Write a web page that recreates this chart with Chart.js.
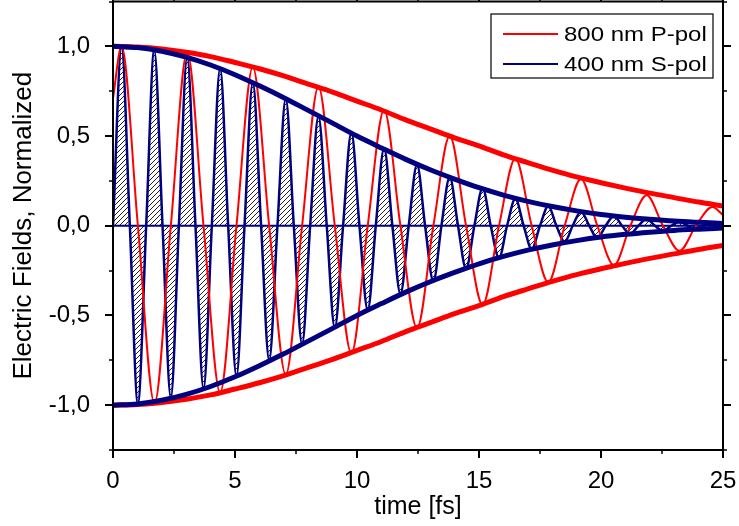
<!DOCTYPE html>
<html>
<head>
<meta charset="utf-8">
<script src="https://cdn.jsdelivr.net/npm/chart.js@4.4.1/dist/chart.umd.min.js"></script>
<style>
  html, body { margin: 0; padding: 0; background: #fff; }
  #wrap { width: 739px; height: 526px; position: relative; }
</style>
</head>
<body>
<div id="wrap"><canvas id="c"></canvas></div>
<script>
/* 800 nm P-pol: times of extrema / zero crossings and field values */
var RED_T = [0, 0.35, 1.02, 1.70, 2.37, 3.04, 3.71, 4.39, 5.06, 5.73, 6.40, 7.08, 7.75, 8.42, 9.09,
  9.77, 10.44, 11.11, 11.78, 12.46, 13.13, 13.80, 14.47, 15.15, 15.82, 16.49, 17.16, 17.84, 18.51,
  19.18, 19.85, 20.53, 21.20, 21.87, 22.54, 23.22, 23.89, 24.56, 25];
var RED_E = [0.71, 1.00, 0, -0.99, 0, 0.97, 0, -0.93, 0, 0.885, 0, -0.83, 0, 0.775, 0,
  -0.71, 0, 0.645, 0, -0.57, 0, 0.50, 0, -0.44, 0, 0.375, 0, -0.315, 0,
  0.26, 0, -0.22, 0, 0.17, 0, -0.14, 0, 0.105, 0.06];

/* 400 nm S-pol */
var BLUE_T = [0, 0.35, 0.69, 1.02, 1.36, 1.69, 2.03, 2.37, 2.70, 3.04, 3.38, 3.71, 4.05, 4.39, 4.72,
  5.06, 5.39, 5.73, 6.07, 6.40, 6.74, 7.08, 7.41, 7.75, 8.08, 8.42, 8.76, 9.09, 9.43, 9.77, 10.10,
  10.44, 10.77, 11.11, 11.45, 11.78, 12.12, 12.46, 12.79, 13.13, 13.46, 13.80, 14.14, 14.47, 14.81,
  15.15, 15.48, 15.82, 16.15, 16.49, 16.83, 17.16, 17.50, 17.84, 18.17, 18.51, 18.84, 19.18, 19.52,
  19.85, 20.19, 20.53, 20.86, 21.20, 21.53, 21.87, 22.21, 22.54, 22.88, 23.22, 23.55, 23.89, 24.22,
  24.56, 24.90, 25];
var BLUE_E = [0, 1.00, 0, -0.99, 0, 0.98, 0, -0.96, 0, 0.94, 0, -0.91, 0, 0.88, 0,
  -0.84, 0, 0.80, 0, -0.75, 0, 0.71, 0, -0.66, 0, 0.61, 0, -0.57, 0, 0.52, 0,
  -0.47, 0, 0.43, 0, -0.38, 0, 0.34, 0, -0.31, 0, 0.27, 0, -0.24, 0,
  0.21, 0, -0.18, 0, 0.15, 0, -0.13, 0, 0.11, 0, -0.09, 0, 0.08, 0,
  -0.07, 0, 0.055, 0, -0.045, 0, 0.037, 0, -0.03, 0, 0.024, 0, -0.02, 0,
  0.016, 0, -0.006];

/* envelopes */
var ENV_T = [0, 1, 2, 3, 4, 5, 6, 7, 8, 9, 10, 11, 12, 13, 14, 15, 16, 17, 18, 19, 20, 21, 22, 23, 24, 25];
var RED_ENV = [1.0, 0.996, 0.985, 0.967, 0.943, 0.91, 0.875, 0.835, 0.79, 0.745, 0.695, 0.645, 0.59,
  0.54, 0.49, 0.445, 0.395, 0.352, 0.31, 0.272, 0.24, 0.21, 0.182, 0.157, 0.132, 0.11];
var BLUE_ENV = [1.0, 0.993, 0.973, 0.94, 0.896, 0.842, 0.78, 0.714, 0.643, 0.572, 0.5, 0.434, 0.37,
  0.312, 0.26, 0.212, 0.171, 0.136, 0.107, 0.083, 0.063, 0.048, 0.036, 0.026, 0.019, 0.013];

var X_TICKS = [0, 5, 10, 15, 20, 25];
var X_MINOR = [2.5, 7.5, 12.5, 17.5, 22.5];
var Y_TICKS = [-1.0, -0.5, 0, 0.5, 1.0];
var Y_MINOR = [-1.25, -0.75, -0.25, 0.25, 0.75, 1.25];

var LEGEND = [
  { label: "800 nm P-pol", color: "#ff0000" },
  { label: "400 nm S-pol", color: "#000080" },
];

var RED = "#ff0000";
var NAVY = "#000080";
var FONT = "'Liberation Sans', Arial, sans-serif";

function pts(xs, ys, sign) {
  return xs.map(function (x, i) { return { x: x, y: (sign || 1) * ys[i] }; });
}

function hatchPattern(ctx) {
  var p = document.createElement("canvas");
  p.width = 5; p.height = 5;
  var g = p.getContext("2d");
  g.strokeStyle = "#222";
  g.lineWidth = 1;
  g.beginPath();
  g.moveTo(-1, 6); g.lineTo(6, -1);
  g.moveTo(-1, 1); g.lineTo(1, -1);
  g.moveTo(4, 6); g.lineTo(6, 4);
  g.stroke();
  return ctx.createPattern(p, "repeat");
}

function noPad(s) {
  s.paddingTop = 0; s.paddingBottom = 0; s.paddingLeft = 0; s.paddingRight = 0;
}

/* box, mirrored ticks (major + minor) and the legend inside the plot */
var framePlugin = {
  id: "frame",
  afterDraw: function (chart) {
    var ctx = chart.ctx, a = chart.chartArea;
    var xs = chart.scales.x, ys = chart.scales.y;
    ctx.save();
    ctx.strokeStyle = "#000";
    ctx.lineWidth = 2;
    ctx.strokeRect(a.left, a.top, a.right - a.left, a.bottom - a.top);

    function xt(v, len) {
      var px = Math.round(xs.getPixelForValue(v));
      ctx.beginPath();
      ctx.moveTo(px, a.bottom); ctx.lineTo(px, a.bottom + len);
      ctx.moveTo(px, a.top); ctx.lineTo(px, a.top - len);
      ctx.stroke();
    }
    function yt(v, len) {
      var py = Math.round(ys.getPixelForValue(v));
      ctx.beginPath();
      ctx.moveTo(a.left, py); ctx.lineTo(a.left - len, py);
      ctx.moveTo(a.right, py); ctx.lineTo(a.right + len, py);
      ctx.stroke();
    }
    X_TICKS.forEach(function (v) { xt(v, 8); });
    Y_TICKS.forEach(function (v) { yt(v, 8); });
    ctx.lineWidth = 1.5;
    X_MINOR.forEach(function (v) { xt(v, 4); });
    Y_MINOR.forEach(function (v) { yt(v, 4); });

    // legend
    var bx = 491, by = 14, bw = 222, bh = 64;
    ctx.fillStyle = "#fff";
    ctx.fillRect(bx, by, bw, bh);
    ctx.lineWidth = 1.2;
    ctx.strokeStyle = "#000";
    ctx.strokeRect(bx, by, bw, bh);
    ctx.font = "20px " + FONT;
    ctx.textBaseline = "middle";
    LEGEND.forEach(function (it, i) {
      var y = 34 + i * 30;
      ctx.strokeStyle = it.color;
      ctx.lineWidth = 2;
      ctx.beginPath();
      ctx.moveTo(503, y); ctx.lineTo(558, y);
      ctx.stroke();
      ctx.fillStyle = "#000";
      ctx.save();
      ctx.translate(564, y + 1);
      ctx.scale(1.2, 1);
      ctx.fillText(it.label, 0, 0);
      ctx.restore();
    });
    ctx.restore();
  },
};

var canvas = document.getElementById("c");
var ctx = canvas.getContext("2d");

new Chart(canvas, {
  type: "line",
  data: {
    datasets: [
      { data: pts(ENV_T, BLUE_ENV), borderColor: NAVY, borderWidth: 5 },
      { data: pts(ENV_T, BLUE_ENV, -1), borderColor: NAVY, borderWidth: 5 },
      { data: pts(RED_T, RED_E), borderColor: RED, borderWidth: 2 },
      { data: pts(ENV_T, RED_ENV), borderColor: RED, borderWidth: 5 },
      { data: pts(ENV_T, RED_ENV, -1), borderColor: RED, borderWidth: 5 },
      {
        data: pts(BLUE_T, BLUE_E),
        borderColor: NAVY,
        borderWidth: 2.5,
        fill: "origin",
        backgroundColor: hatchPattern(ctx),
      },
      { data: [{ x: 0, y: 0 }, { x: 25, y: 0 }], borderColor: NAVY, borderWidth: 2 },
    ],
  },
  options: {
    responsive: true,
    maintainAspectRatio: false,
    animation: false,
    devicePixelRatio: 1,
    layout: { padding: { top: 1.5, right: 16, left: 0, bottom: 0 } },
    elements: {
      point: { radius: 0, hoverRadius: 0 },
      line: { cubicInterpolationMode: "monotone", fill: false, borderCapStyle: "butt" },
    },
    plugins: {
      legend: { display: false },
      tooltip: { enabled: false },
      filler: { drawTime: "beforeDatasetsDraw" },
    },
    scales: {
      x: {
        type: "linear",
        min: 0,
        max: 25,
        afterBuildTicks: function (s) { s.ticks = X_TICKS.map(function (v) { return { value: v }; }); },
        afterFit: function (s) { s.height = 76; noPad(s); },
        grid: { display: false },
        border: { display: false },
        ticks: {
          color: "#000",
          padding: 9,
          maxRotation: 0,
          font: { family: FONT, size: 24 },
          callback: function (v) { return String(v); },
        },
        title: {
          display: true,
          text: "time [fs]",
          color: "#000",
          font: { family: FONT, size: 25 },
          padding: { top: 0, bottom: 4 },
        },
      },
      y: {
        min: -1.25,
        max: 1.25,
        afterBuildTicks: function (s) { s.ticks = Y_TICKS.map(function (v) { return { value: v }; }); },
        afterFit: function (s) { s.width = 113; noPad(s); },
        grid: { display: false },
        border: { display: false },
        ticks: {
          color: "#000",
          padding: 15,
          font: { family: FONT, size: 24 },
          callback: function (v) { return v.toFixed(1).replace(".", ","); },
        },
        title: {
          display: true,
          text: "Electric Fields, Normalized",
          color: "#000",
          font: { family: FONT, size: 26 },
          padding: { top: 8, bottom: 0 },
        },
      },
    },
  },
  plugins: [framePlugin],
});
</script>
</body>
</html>
